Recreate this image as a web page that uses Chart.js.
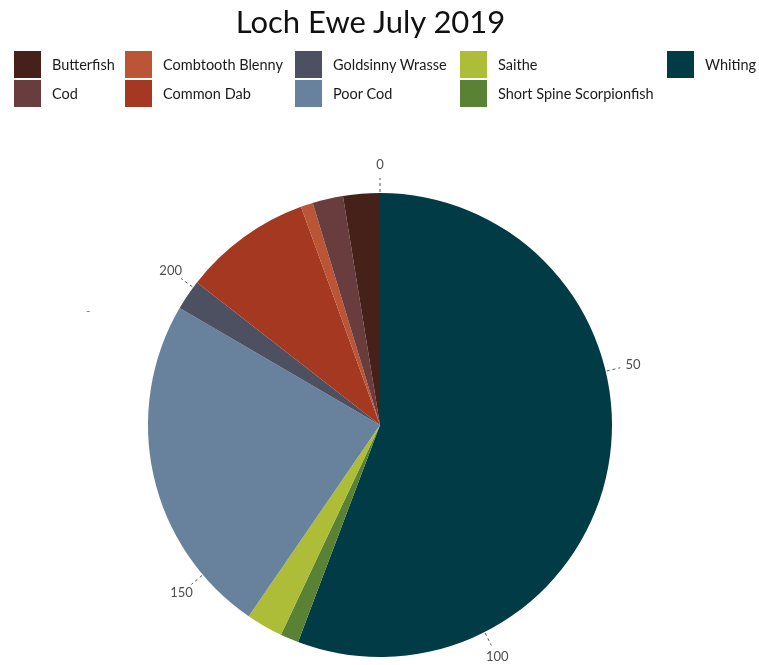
<!DOCTYPE html>
<html><head><meta charset="utf-8">
<script src="https://cdn.jsdelivr.net/npm/chart.js@4/dist/chart.umd.min.js"></script>
<style>
html,body{margin:0;padding:0;background:#fff;}
#wrap{position:relative;width:759px;height:665px;overflow:hidden;font-family:Lato,"Open Sans",sans-serif;}
#c{position:absolute;left:0;top:0;}
#title{position:absolute;left:0;width:741px;top:2px;text-align:center;font-size:31px;color:#111;font-family:Lato,sans-serif;}
.li{position:absolute;height:27px;display:flex;align-items:center;font-size:14.5px;color:#1a1a1a;white-space:nowrap;}
.sw{width:27px;height:27px;margin-right:11px;flex:none;}
#dash{position:absolute;left:86px;top:303px;font-size:12px;color:#777;}
</style></head>
<body><div id="wrap">
<canvas id="c" width="759" height="665"></canvas>
<div id="title">Loch Ewe July 2019</div>
<div id="legend"></div>
<div id="dash">-</div>
</div>
<script>
// Data in clockwise order starting at the top
const categories = ["Whiting","Short Spine Scorpionfish","Saithe","Poor Cod","Goldsinny Wrasse","Common Dab","Combtooth Blenny","Cod","Butterfish"];
const counts = [131, 3, 6, 56, 5, 21, 2, 5, 6];
const colours = ["#003b46","#598234","#aebd38","#68829e","#4d5061","#a43820","#ba5536","#693d3d","#46211a"];
const tickValues = [0, 50, 100, 150, 200];
const legendOrder = ["Butterfish","Cod","Combtooth Blenny","Common Dab","Goldsinny Wrasse","Poor Cod","Saithe","Short Spine Scorpionfish","Whiting"];

// legend (column-major, 2 rows)
const colX = [14, 125, 295, 460, 667];
const rowY = [51, 80];
const leg = document.getElementById('legend');
legendOrder.forEach((name, i) => {
  const col = Math.floor(i / 2), row = i % 2;
  const d = document.createElement('div');
  d.className = 'li';
  d.style.left = colX[col] + 'px';
  d.style.top = rowY[row] + 'px';
  const s = document.createElement('span');
  s.className = 'sw';
  s.style.background = colours[categories.indexOf(name)];
  d.appendChild(s);
  d.appendChild(document.createTextNode(name));
  leg.appendChild(d);
});

const ringTicks = {
  id: 'ringTicks',
  afterDraw(chart) {
    const arc = chart.getDatasetMeta(0).data[0];
    const cx = arc.x, cy = arc.y, r = arc.outerRadius;
    const total = counts.reduce((a, b) => a + b, 0);
    const ctx = chart.ctx;
    ctx.save();
    ctx.strokeStyle = '#555';
    ctx.lineWidth = 1;
    ctx.setLineDash([3, 3]);
    ctx.fillStyle = '#4d4d4d';
    ctx.font = '13px Lato, sans-serif';
    ctx.textAlign = 'center';
    ctx.textBaseline = 'middle';
    tickValues.forEach(v => {
      const a = -Math.PI / 2 + v / total * 2 * Math.PI;
      const c = Math.cos(a), s = Math.sin(a);
      ctx.beginPath();
      ctx.moveTo(cx + c * (r + 1), cy + s * (r + 1));
      ctx.lineTo(cx + c * (r + 15), cy + s * (r + 15));
      ctx.stroke();
      ctx.fillText(String(v), cx + c * (r + 28), cy + s * (r + 28));
    });
    ctx.restore();
  }
};

new Chart(document.getElementById('c'), {
  type: 'pie',
  data: { labels: categories, datasets: [{ data: counts, backgroundColor: colours, borderWidth: 0 }] },
  options: {
    responsive: false, animation: false,
    layout: { padding: { top: 193, bottom: 8, left: 148, right: 147 } },
    plugins: { legend: { display: false }, title: { display: false }, tooltip: { enabled: false } }
  },
  plugins: [ringTicks]
});
</script>
</body></html>
